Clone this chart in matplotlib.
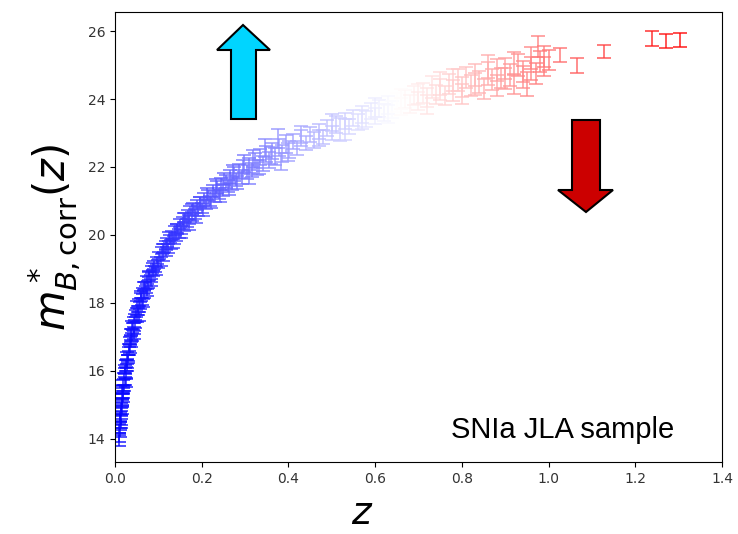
import matplotlib
matplotlib.use("Agg")
import matplotlib.pyplot as plt
from matplotlib.patches import Polygon

# redshift, corrected B magnitude and its error
z_low = [0.0084, 0.0093, 0.0100, 0.0105, 0.0112, 0.0120, 0.0128, 0.0135, 0.0142, 0.0150,
         0.0155, 0.0163, 0.0170, 0.0178, 0.0185, 0.0192, 0.0200, 0.0210, 0.0220, 0.0232,
         0.0245, 0.0258, 0.0270, 0.0285, 0.0300, 0.0315, 0.0330, 0.0345, 0.0360, 0.0378,
         0.0395, 0.0410, 0.0428, 0.0445, 0.0460, 0.0480, 0.0500, 0.0520, 0.0540, 0.0560,
         0.0580, 0.0600, 0.0625, 0.0650, 0.0670, 0.0695, 0.0720, 0.0745, 0.0770, 0.0795,
         0.0820, 0.0850, 0.0875, 0.0900, 0.0930, 0.0960, 0.0990,
         0.0110, 0.0138, 0.0160, 0.0195, 0.0225, 0.0250, 0.0280, 0.0310, 0.0340, 0.0370,
         0.0400, 0.0435, 0.0470, 0.0510, 0.0550, 0.0590, 0.0640, 0.0680, 0.0730, 0.0780,
         0.0830, 0.0880, 0.0950]
m_low = [13.95, 14.30, 14.05, 14.40, 14.20, 14.62, 14.45, 14.80, 14.95, 15.10,
         14.85, 15.25, 15.05, 15.45, 15.30, 15.62, 15.50, 15.85, 15.70, 16.00,
         15.90, 16.22, 16.10, 16.45, 16.38, 16.70, 16.58, 16.90, 16.80, 17.12,
         17.00, 17.30, 17.20, 17.50, 17.38, 17.68, 17.55, 17.82, 17.75, 18.02,
         17.92, 18.18, 18.05, 18.35, 18.25, 18.52, 18.40, 18.68, 18.55, 18.85,
         18.72, 18.98, 18.88, 19.12, 19.00, 19.25, 19.15,
         14.65, 14.55, 15.45, 15.20, 16.05, 15.65, 16.20, 16.35, 16.65, 16.95,
         17.35, 17.05, 17.55, 17.95, 17.60, 18.25, 18.00, 18.50, 18.30, 18.80,
         18.60, 19.05, 18.95]
e_low = [0.15, 0.14, 0.13, 0.14, 0.13, 0.12, 0.13, 0.12, 0.12, 0.11,
         0.12, 0.11, 0.12, 0.11, 0.11, 0.11, 0.10, 0.10, 0.11, 0.10,
         0.10, 0.10, 0.11, 0.10, 0.10, 0.10, 0.11, 0.10, 0.10, 0.10,
         0.11, 0.10, 0.10, 0.10, 0.11, 0.10, 0.10, 0.10, 0.11, 0.10,
         0.10, 0.11, 0.10, 0.10, 0.11, 0.10, 0.10, 0.11, 0.10, 0.10,
         0.11, 0.10, 0.10, 0.11, 0.10, 0.10, 0.11,
         0.15, 0.14, 0.13, 0.12, 0.12, 0.12, 0.11, 0.12, 0.11, 0.11,
         0.12, 0.11, 0.11, 0.11, 0.12, 0.11, 0.11, 0.12, 0.11, 0.12,
         0.11, 0.12, 0.12]

z_mid = [0.102, 0.105, 0.108, 0.111, 0.114, 0.117, 0.120, 0.123, 0.126, 0.129,
         0.132, 0.135, 0.138, 0.141, 0.144, 0.147, 0.150, 0.153, 0.156, 0.159,
         0.162, 0.165, 0.168, 0.171, 0.174, 0.177, 0.180, 0.184, 0.188, 0.192,
         0.196, 0.200, 0.205, 0.210, 0.215, 0.220, 0.225, 0.230, 0.235, 0.240,
         0.245, 0.250, 0.255, 0.260, 0.265, 0.270, 0.275, 0.280, 0.286, 0.292,
         0.298, 0.304, 0.310, 0.316, 0.322, 0.328, 0.335, 0.342, 0.349, 0.356,
         0.363, 0.370, 0.378, 0.386, 0.394, 0.402,
         0.110, 0.118, 0.125, 0.133, 0.142, 0.152, 0.160, 0.170, 0.178, 0.186,
         0.195, 0.203, 0.212, 0.222, 0.232, 0.242, 0.252, 0.262, 0.272, 0.282,
         0.295, 0.308, 0.318, 0.332, 0.345, 0.360, 0.375, 0.384, 0.398]
m_mid = [19.40, 19.22, 19.55, 19.35, 19.62, 19.48, 19.78, 19.60, 19.88, 19.72,
         20.00, 19.85, 20.12, 19.95, 20.20, 20.05, 20.35, 20.15, 20.40, 20.25,
         20.52, 20.35, 20.60, 20.45, 20.70, 20.55, 20.80, 20.62, 20.88, 20.70,
         20.98, 20.80, 21.08, 20.90, 21.15, 21.00, 21.30, 21.12, 21.40, 21.22,
         21.50, 21.32, 21.58, 21.45, 21.70, 21.52, 21.80, 21.62, 21.88, 21.70,
         22.10, 21.85, 22.05, 21.92, 22.18, 21.98, 22.30, 22.10, 22.38, 22.20,
         22.48, 22.30, 22.58, 22.40, 22.68, 22.50,
         19.60, 19.70, 19.95, 19.75, 20.18, 20.05, 20.50, 20.30, 20.75, 20.50,
         20.95, 20.70, 21.20, 20.95, 21.42, 21.15, 21.65, 21.35, 21.85, 21.55,
         22.00, 21.70, 22.25, 22.00, 22.55, 22.35, 22.85, 22.15, 22.45]
e_mid = [0.11, 0.12, 0.11, 0.12, 0.12, 0.11, 0.12, 0.12, 0.12, 0.13,
         0.12, 0.12, 0.13, 0.12, 0.13, 0.13, 0.13, 0.12, 0.13, 0.13,
         0.14, 0.13, 0.14, 0.13, 0.14, 0.14, 0.15, 0.14, 0.15, 0.14,
         0.15, 0.15, 0.16, 0.15, 0.16, 0.15, 0.17, 0.16, 0.18, 0.17,
         0.18, 0.17, 0.19, 0.18, 0.20, 0.19, 0.20, 0.19, 0.21, 0.20,
         0.25, 0.21, 0.22, 0.21, 0.22, 0.22, 0.23, 0.22, 0.24, 0.23,
         0.24, 0.25, 0.25, 0.24, 0.26, 0.25,
         0.13, 0.13, 0.14, 0.13, 0.14, 0.13, 0.15, 0.14, 0.15, 0.15,
         0.16, 0.15, 0.17, 0.16, 0.22, 0.17, 0.18, 0.18, 0.20, 0.19,
         0.21, 0.20, 0.24, 0.22, 0.26, 0.25, 0.28, 0.25, 0.26]

z_high = [0.41, 0.42, 0.43, 0.44, 0.45, 0.46, 0.47, 0.48, 0.49, 0.50,
          0.51, 0.52, 0.53, 0.54, 0.55, 0.56, 0.57, 0.58, 0.59, 0.60,
          0.61, 0.62, 0.63, 0.64, 0.65, 0.66, 0.67, 0.68, 0.69, 0.70,
          0.71, 0.72, 0.73, 0.74, 0.75, 0.76, 0.77, 0.78, 0.79, 0.80,
          0.81, 0.82, 0.83, 0.84, 0.85, 0.86, 0.87, 0.88, 0.89, 0.90,
          0.91, 0.92, 0.93, 0.94, 0.95, 0.96, 0.975, 0.98, 0.99, 1.00,
          1.027, 1.065, 1.128, 1.238, 1.27, 1.303,
          0.43, 0.47, 0.50, 0.53, 0.57, 0.60, 0.63, 0.66, 0.70, 0.72,
          0.75, 0.78, 0.80, 0.83, 0.86, 0.88, 0.90, 0.92, 0.94, 0.96,
          0.97, 0.99]
m_high = [22.75, 22.55, 22.85, 22.70, 22.95, 22.80, 23.05, 22.88, 23.15, 23.00,
          23.25, 23.10, 23.35, 23.20, 23.45, 23.32, 23.55, 23.42, 23.65, 23.50,
          23.72, 23.60, 23.82, 23.70, 23.90, 23.78, 24.00, 23.85, 24.10, 23.95,
          24.18, 24.05, 24.35, 24.12, 24.28, 24.10, 24.45, 24.25, 24.55, 24.35,
          24.62, 24.40, 24.70, 24.50, 24.30, 24.75, 24.58, 24.85, 24.62, 24.90,
          24.70, 24.45, 25.00, 24.80, 24.45, 24.90, 25.55, 25.10, 24.95, 25.15,
          25.30, 24.98, 25.40, 25.78, 25.70, 25.73,
          22.95, 22.85, 23.30, 23.10, 23.40, 23.75, 23.55, 24.00, 24.15, 23.85,
          24.45, 24.55, 24.15, 24.45, 24.95, 24.40, 24.60, 25.05, 24.65, 25.20,
          24.75, 25.25]
e_high = [0.22, 0.20, 0.23, 0.21, 0.22, 0.24, 0.22, 0.21, 0.23, 0.22,
          0.24, 0.35, 0.23, 0.22, 0.24, 0.23, 0.25, 0.24, 0.24, 0.25,
          0.26, 0.25, 0.26, 0.25, 0.27, 0.26, 0.27, 0.26, 0.28, 0.27,
          0.30, 0.28, 0.32, 0.28, 0.30, 0.29, 0.30, 0.31, 0.32, 0.30,
          0.31, 0.30, 0.32, 0.31, 0.30, 0.33, 0.31, 0.32, 0.30, 0.31,
          0.33, 0.30, 0.32, 0.31, 0.35, 0.35, 0.31, 0.30, 0.28, 0.30,
          0.20, 0.22, 0.20, 0.21, 0.20, 0.20,
          0.25, 0.24, 0.25, 0.30, 0.28, 0.27, 0.26, 0.28, 0.30, 0.28,
          0.33, 0.32, 0.30, 0.32, 0.34, 0.30, 0.32, 0.33, 0.32, 0.32,
          0.30, 0.30]

z = z_low + z_mid + z_high
mb = m_low + m_mid + m_high
dmb = e_low + e_mid + e_high

fig = plt.figure(figsize=(7.38, 5.34), dpi=100)
ax = fig.add_axes([115 / 738, 1 - 462 / 534, 607 / 738, 450 / 534])

cmap = plt.get_cmap("bwr")
norm = plt.Normalize(0.0, 1.3)
for zi, mi, ei in zip(z, mb, dmb):
    ax.errorbar(zi, mi, yerr=ei, fmt="none", ecolor=cmap(norm(zi)),
                elinewidth=1.3, capsize=5, capthick=1.3, alpha=0.75)

ax.set_xlim(0, 1.4)
ax.set_ylim(13.32, 26.56)
ax.set_yticks([14, 16, 18, 20, 22, 24, 26])
ax.tick_params(labelsize=10, labelcolor="#333333")

ax.set_xlabel(r"$z$", fontsize=27)
ax.xaxis.set_label_coords(0.407, -0.075)
ax.set_ylabel(r"$m^*_{B,\mathrm{corr}}(z)$", fontsize=30)

ax.text(0.553, 0.07, "SNIa JLA sample", transform=ax.transAxes,
        fontsize=21, family="Liberation Sans", va="center", ha="left")


def px(x, y):
    return (x / 738, 1 - y / 534)


up = [px(231, 119), px(231, 50), px(217, 50), px(243, 25), px(270, 50),
      px(256, 50), px(256, 119)]
down = [px(572, 120), px(600, 120), px(600, 190), px(613, 190), px(586, 212),
        px(558, 190), px(572, 190)]
fig.patches.append(Polygon(up, closed=True, facecolor="#00d5ff", edgecolor="black",
                           linewidth=1.5, transform=fig.transFigure, figure=fig))
fig.patches.append(Polygon(down, closed=True, facecolor="#cc0000", edgecolor="black",
                           linewidth=1.5, transform=fig.transFigure, figure=fig))

fig.savefig("out.png", dpi=100)
